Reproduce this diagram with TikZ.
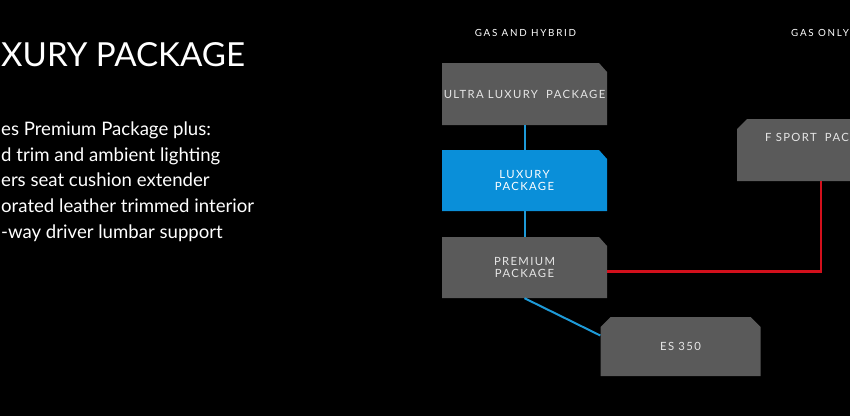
\documentclass[tikz,border=0pt]{standalone}
\usepackage{fontspec}
\setmainfont{Lato}
\newfontfamily\spacedfont[LetterSpace=12]{Lato}
\newfontfamily\headfont[LetterSpace=18]{Lato}
\usetikzlibrary{calc}
\definecolor{bggray}{HTML}{5A5A5A}
\definecolor{lexblue}{HTML}{0A8FD9}
\definecolor{lineblue}{HTML}{1E9AD8}
\definecolor{linered}{HTML}{D3101C}
\definecolor{txtlight}{HTML}{E6E6E6}
\tikzset{
  pkg/.style={rectangle, draw=none, inner sep=0pt,
    minimum width=165pt, minimum height=61pt, text=txtlight, align=center,
    font=\spacedfont\fontsize{11.3}{12.8}\selectfont},
  chne/.style={path picture={\fill[#1]
    (path picture bounding box.south west) -- (path picture bounding box.north west)
    -- ([xshift=-8pt]path picture bounding box.north east)
    -- ([yshift=-9pt]path picture bounding box.north east)
    -- (path picture bounding box.south east) -- cycle;}},
  chnw/.style={path picture={\fill[#1]
    (path picture bounding box.south west) -- ([yshift=-10pt]path picture bounding box.north west)
    -- ([xshift=10pt]path picture bounding box.north west)
    -- (path picture bounding box.north east)
    -- (path picture bounding box.south east) -- cycle;}},
  chboth/.style={path picture={\fill[#1]
    (path picture bounding box.south west) -- ([yshift=-10pt]path picture bounding box.north west)
    -- ([xshift=10pt]path picture bounding box.north west)
    -- ([xshift=-10pt]path picture bounding box.north east)
    -- ([yshift=-10pt]path picture bounding box.north east)
    -- (path picture bounding box.south east) -- cycle;}},
  blueline/.style={draw=lineblue, line width=2pt},
  redline/.style={draw=linered, line width=2.3pt},
  heading/.style={text=white, font=\headfont\fontsize{9.8}{11}\selectfont, inner sep=0pt},
  bodytxt/.style={text=white, font=\fontsize{18.6}{22}\selectfont, inner sep=0pt, anchor=base west},
}
\begin{document}
\begin{tikzpicture}[x=1pt,y=-1pt]
\fill[black] (0,0) rectangle (850,416);
\useasboundingbox (0,0) rectangle (850,416);
\clip (0,0) rectangle (850,416);
% left text
\node[text=white, font=\fontsize{33.1}{40}\selectfont, inner sep=0pt, anchor=base west] (title) at (1,66) {XURY PACKAGE};
\node[bodytxt] (l1) at (1,135) {es Premium Package plus:};
\node[bodytxt] (l2) at (1,161.7) {d trim and ambient lighting};
\node[bodytxt] (l3) at (1,186.7) {ers seat cushion extender};
\node[bodytxt] (l4) at (1,212.7) {orated leather trimmed interior};
\node[bodytxt] (l5) at (1,238) {-way driver lumbar support};
% headings
\node[heading] (h1) at (525.5,33.3) {GAS AND HYBRID};
\node[heading, anchor=west] (h2) at (791,33.3) {GAS ONLY};
% boxes
\node[pkg, chne=bggray, minimum height=62pt] (ultra) at (524.5,94) {ULTRA LUXURY\hspace{0.35em} PACKAGE};
\node[pkg, chne=lexblue, text=white] (lux) at (524.5,180.5) {LUXURY\\PACKAGE};
\node[pkg, chne=bggray] (prem) at (524.5,267.5) {PREMIUM\\PACKAGE};
\node[pkg, chboth=bggray, minimum width=160pt, minimum height=59pt] (es) at (680.5,346.5) {ES 350};
\node[pkg, chnw=bggray, minimum width=168pt, minimum height=62pt] (fsport) at (821,150) {};
\node[pkg, minimum width=0pt, minimum height=0pt, anchor=base west] (fsporttxt) at (765,141.7) {F SPORT\hspace{0.35em} PAC};
% connectors
\draw[blueline] (ultra.south) -- (lux.north);
\draw[blueline] (lux.south) -- (prem.north);
\coordinate (esin) at ($(es.west)+(0,-11)$);
\draw[blueline] (prem.south) -- (esin);
\coordinate (premout) at ($(prem.east)+(0,4)$);
\draw[redline] (premout) -| (fsport.south);
\end{tikzpicture}
\end{document}
